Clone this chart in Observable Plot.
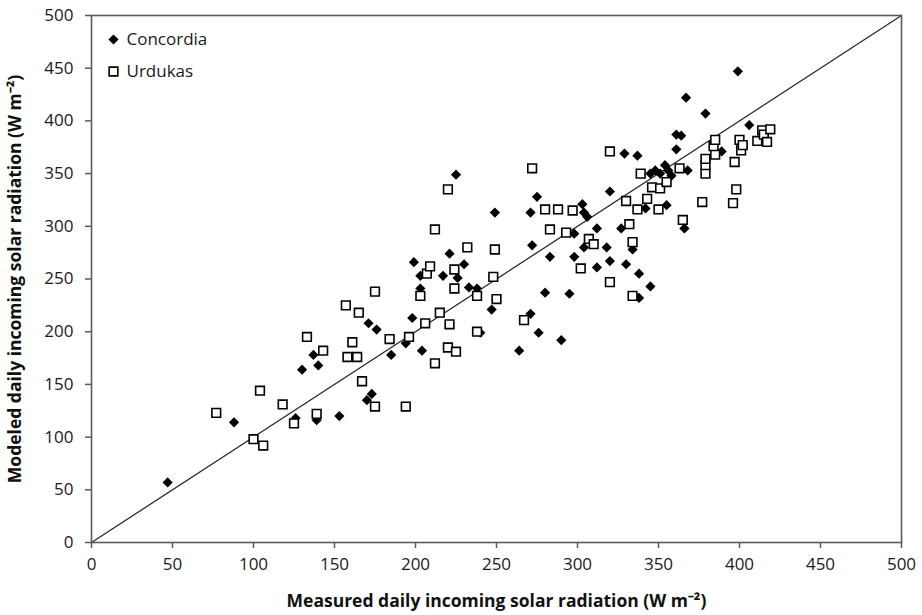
<!DOCTYPE html>
<html>
<head>
<meta charset="utf-8">
<script src="https://cdn.jsdelivr.net/npm/d3@7"></script>
<script src="https://cdn.jsdelivr.net/npm/@observablehq/plot@0.6"></script>
<style>
  body { margin: 0; background: #fff; }
  #chart svg { display: block; }
  #chart g[aria-label="x-axis label"] text,
  #chart g[aria-label="y-axis label"] text { font-weight: 700; font-size: 17.5px; fill: #111; }
</style>
</head>
<body>
<div id="chart"></div>
<script>
// Concordia station: measured vs modeled daily incoming solar radiation (W m-2)
const concordiaMeasured = [47, 88, 126, 139, 153, 130, 137, 140, 170, 173, 171, 176, 185, 194, 198, 204, 199, 203, 203, 217, 221, 225, 226, 230, 233, 238, 240, 247, 249, 264, 271, 271, 272, 275, 276, 280, 283, 290, 295, 298, 298, 303, 304, 306, 304, 312, 312, 318, 320, 320, 327, 329, 330, 334, 337, 338, 338, 342, 345, 345, 348, 351, 354, 355, 356, 358, 361, 361, 364, 366, 367, 368, 379, 389, 399, 406];
const concordiaModeled = [57, 114, 118, 116, 120, 164, 178, 168, 135, 141, 208, 202, 178, 189, 213, 182, 266, 253, 241, 253, 274, 349, 251, 264, 242, 241, 199, 221, 313, 182, 217, 313, 282, 328, 199, 237, 271, 192, 236, 293, 271, 321, 313, 309, 280, 298, 261, 280, 333, 267, 298, 369, 264, 278, 367, 255, 232, 317, 243, 350, 353, 350, 358, 320, 353, 348, 373, 387, 386, 298, 422, 353, 407, 371, 447, 396];

// Urdukas station: measured vs modeled daily incoming solar radiation (W m-2)
const urdukasMeasured = [77, 100, 104, 106, 118, 125, 133, 139, 143, 157, 158, 161, 165, 164, 167, 175, 175, 184, 194, 196, 203, 206, 207, 209, 212, 212, 215, 220, 220, 221, 224, 224, 225, 232, 238, 238, 248, 249, 250, 267, 272, 280, 283, 288, 293, 297, 302, 307, 310, 320, 320, 330, 332, 334, 334, 337, 339, 343, 346, 350, 351, 355, 363, 365, 377, 379, 379, 379, 385, 384, 385, 396, 397, 398, 400, 401, 402, 411, 414, 415, 417, 419];
const urdukasModeled = [123, 98, 144, 92, 131, 113, 195, 122, 182, 225, 176, 190, 218, 176, 153, 129, 238, 193, 129, 195, 234, 208, 255, 262, 297, 170, 218, 335, 185, 207, 259, 241, 181, 280, 234, 200, 252, 278, 231, 211, 355, 316, 297, 316, 294, 315, 260, 288, 283, 371, 247, 324, 302, 285, 234, 316, 350, 326, 337, 316, 336, 342, 355, 306, 323, 350, 358, 364, 368, 376, 382, 322, 361, 335, 382, 372, 377, 381, 391, 387, 380, 392];

const seriesNames = ["Concordia", "Urdukas"];
const axisTicks = [0, 50, 100, 150, 200, 250, 300, 350, 400, 450, 500];
const oneToOne = [0, 500];

const xTitle = "Measured daily incoming solar radiation (W m\u207B\u00B2)";
const yTitle = "Modeled daily incoming solar radiation (W m\u207B\u00B2)";

const concordia = concordiaMeasured.map((x, i) => ({x, y: concordiaModeled[i]}));
const urdukas = urdukasMeasured.map((x, i) => ({x, y: urdukasModeled[i]}));
const diagonal = oneToOne.map(v => ({x: v, y: v}));

const frameGray = "#5a5a5a";
const diamondR = 4.6;
const squareR = 4.9;

const chart = Plot.plot({
  width: 922,
  height: 615,
  marginLeft: 91,
  marginRight: 21,
  marginTop: 15,
  marginBottom: 73,
  style: {fontFamily: "'Open Sans', sans-serif", fontSize: "17px", color: "#1a1a1a", background: "#fff"},
  x: {domain: [0, 500]},
  y: {domain: [0, 500]},
  marks: [
    Plot.line(diagonal, {x: "x", y: "y", stroke: "#2b2b2b", strokeWidth: 1.3}),
    Plot.frame({stroke: frameGray, strokeWidth: 1.6}),
    Plot.axisX({
      ticks: axisTicks, tickSize: 6, tickPadding: 9, stroke: frameGray, strokeWidth: 1.5,
      tickFormat: d => String(d),
      label: xTitle, labelAnchor: "center", labelArrow: "none", labelOffset: 64
    }),
    Plot.axisY({
      ticks: axisTicks, tickSize: 6, tickPadding: 12, stroke: frameGray, strokeWidth: 1.5,
      tickFormat: d => String(d),
      label: yTitle, labelAnchor: "center", labelArrow: "none", labelOffset: 83
    }),
    Plot.dot(concordia, {x: "x", y: "y", symbol: "diamond2", r: diamondR, fill: "#000", stroke: "none"}),
    Plot.dot(urdukas, {x: "x", y: "y", symbol: "square", r: squareR, fill: "#fff", stroke: "#000", strokeWidth: 1.6}),
    // legend in the upper-left corner of the plot area
    Plot.dot([seriesNames[0]], {frameAnchor: "top-left", dx: 22, dy: 24, symbol: "diamond2", r: diamondR, fill: "#000"}),
    Plot.text([seriesNames[0]], {frameAnchor: "top-left", dx: 35, dy: 24, text: d => d, textAnchor: "start", lineAnchor: "middle", fill: "#1a1a1a"}),
    Plot.dot([seriesNames[1]], {frameAnchor: "top-left", dx: 22, dy: 56, symbol: "square", r: squareR, fill: "#fff", stroke: "#000", strokeWidth: 1.6}),
    Plot.text([seriesNames[1]], {frameAnchor: "top-left", dx: 35, dy: 56, text: d => d, textAnchor: "start", lineAnchor: "middle", fill: "#1a1a1a"})
  ]
});

document.getElementById("chart").append(chart);
</script>
</body>
</html>
